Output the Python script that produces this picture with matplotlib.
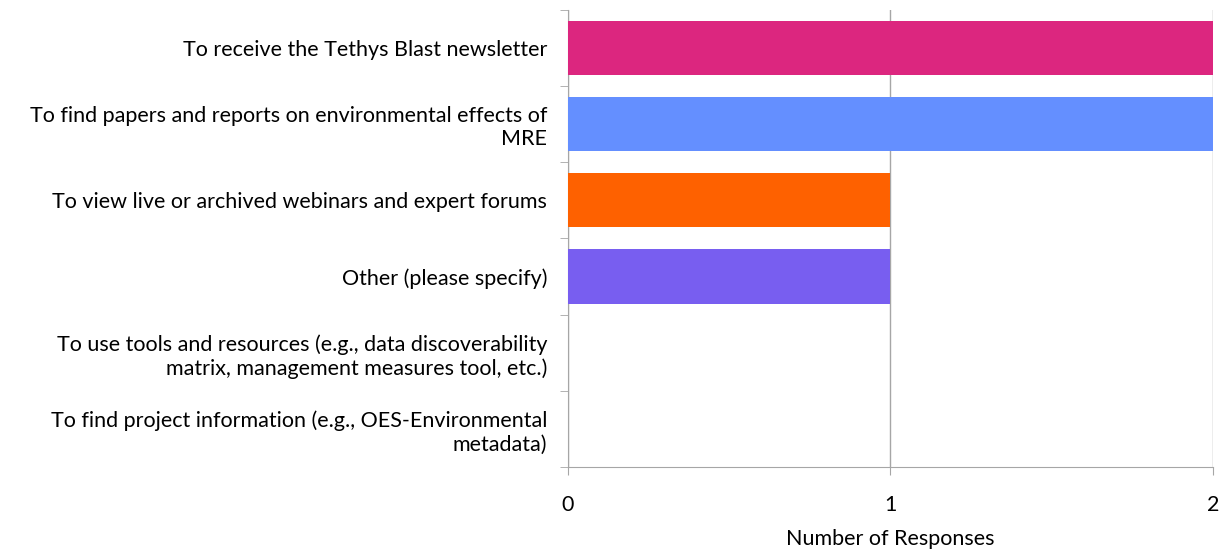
import matplotlib
matplotlib.use("Agg")
import matplotlib.pyplot as plt
import numpy as np

categories = [
    "To receive the Tethys Blast newsletter",
    "To find papers and reports on environmental effects of\nMRE",
    "To view live or archived webinars and expert forums",
    "Other (please specify)",
    "To use tools and resources (e.g., data discoverability\nmatrix, management measures tool, etc.)",
    "To find project information (e.g., OES-Environmental\nmetadata)",
]
values = [2, 2, 1, 1, 0, 0]
colors = ["#DC267F", "#648FFF", "#FE6100", "#785EF0", "#FFB000", "#DC267F"]
x_ticks = [0, 1, 2]

plt.rcParams['font.family'] = ['Lato', 'DejaVu Sans']
fig = plt.figure(figsize=(12.24, 5.5), dpi=100)
ax = fig.add_axes([0.464, 0.151, 0.527, 0.831])

n = len(categories)
y = np.arange(n)
ax.barh(y, values, height=0.71, color=colors, zorder=3)
ax.set_ylim(n - 0.5, -0.5)
ax.set_xlim(0, 2)

fs = 15.5
gc = "#A6A6A6"
ax.set_xticks(x_ticks)
ax.set_xticklabels([str(t) for t in x_ticks], fontsize=fs)
ax.grid(axis='x', color=gc, linewidth=1, zorder=0)
ax.tick_params(axis='x', length=6, color=gc, pad=14)

ax.set_yticks(y)
ax.set_yticklabels(categories, fontsize=fs, ha='right', linespacing=1.2)
ax.tick_params(axis='y', which='major', length=0, pad=15)
ax.set_yticks(np.arange(n + 1) - 0.5, minor=True)
ax.tick_params(axis='y', which='minor', length=6, color=gc)

for s in ['top', 'right']:
    ax.spines[s].set_visible(False)
for s in ['left', 'bottom']:
    ax.spines[s].set_color(gc)

ax.set_xlabel("Number of Responses", fontsize=fs, labelpad=10)

fig.savefig("out.png", dpi=100)
